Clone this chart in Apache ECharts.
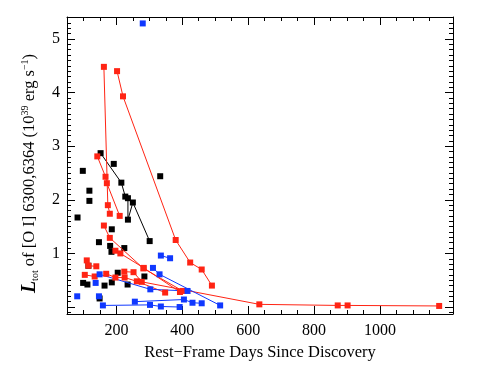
<!DOCTYPE html>
<html>
<head>
<meta charset="utf-8">
<script src="https://cdn.jsdelivr.net/npm/echarts@6/dist/echarts.min.js"></script>
<style>
  html, body { margin: 0; padding: 0; background: #fff; }
  #chart { width: 485px; height: 374px; }
</style>
</head>
<body>
<div id="chart"></div>
<script>
// [day, L(OI)] per object
var redTracks = [
  [[162, 4.48], [174, 1.90], [180, 1.74]],
  [[142, 2.81], [167, 2.43], [171, 2.31], [210, 1.70]],
  [[202, 4.40], [220, 3.93], [380, 1.25], [424, 0.83], [459, 0.70], [490, 0.40]],
  [[162, 1.52], [180, 1.29], [282, 0.72], [401, 0.30]],
  [[197, 1.05], [212, 1.00], [283, 0.73], [393, 0.28]],
  [[110, 0.87], [115, 0.77], [139, 0.76]],
  [[104, 0.60], [134, 0.57]],
  [[169, 0.62], [197, 0.55], [225, 0.55], [262, 0.48], [348, 0.27]],
  [[224, 0.66], [252, 0.65], [277, 0.47], [634, 0.05], [872, 0.03], [902, 0.03], [1180, 0.02]]
];
var blackTracks = [
  [[152, 2.87], [215, 2.32], [227, 2.06], [235, 2.03], [235, 1.63], [250, 1.95], [301, 1.23]]
];
var blackSingles = [
  [192, 2.67], [98, 2.54], [333, 2.44], [118, 2.17], [118, 1.98], [82, 1.67],
  [186, 1.45], [147, 1.21], [181, 1.14], [224, 1.10], [185, 1.03], [115, 0.77],
  [204, 0.64], [285, 0.57], [99, 0.45], [112, 0.42], [164, 0.40], [186, 0.46],
  [234, 0.42], [149, 0.16]
];
var blueTracks = [
  [[335, 0.96], [363, 0.91]],
  [[149, 0.61], [303, 0.33], [416, 0.30]],
  [[311, 0.73], [331, 0.61], [515, 0.03]],
  [[159, 0.03], [302, 0.04], [335, 0.01], [392, 0.00]],
  [[256, 0.10], [405, 0.14], [431, 0.08], [459, 0.07]]
];
var blueSingles = [[280, 5.29], [81, 0.20], [147, 0.20], [137, 0.45]];

var xMajor = [200, 400, 600, 800, 1000];
var yMajor = [0, 1, 2, 3, 4, 5];

var RED = '#ff2414', BLUE = '#1038ff', BLACK = '#000';
var FONT = 'Liberation Serif';

var xMinor = [];
for (var d = 100; d <= 1200; d += 50) if (d % 200 !== 0) xMinor.push(d);
var yMinor = [];
for (var k = -1; k <= 54; k++) if (k % 10 !== 0) yMinor.push(k / 10);

function xAx(pos, ticks, len, showLine, showLabel) {
  return {
    type: 'value', position: pos, min: 50, max: 1222,
    axisLine: { show: showLine, onZero: false, lineStyle: { color: '#000', width: 1 } },
    axisTick: { inside: true, length: len, customValues: ticks, lineStyle: { color: '#000', width: 1 } },
    axisLabel: {
      show: showLabel, customValues: ticks, color: '#000', fontFamily: FONT, fontSize: 16, margin: 9,
      formatter: function (v) { return String(v); }
    },
    splitLine: { show: false }
  };
}
function yAx(pos, ticks, len, showLine, showLabel) {
  return {
    type: 'value', position: pos, min: -0.13, max: 5.41,
    axisLine: { show: showLine, onZero: false, lineStyle: { color: '#000', width: 1 } },
    axisTick: { inside: true, length: len, customValues: ticks, lineStyle: { color: '#000', width: 1 } },
    axisLabel: {
      show: showLabel, customValues: ticks, color: '#000', fontFamily: FONT, fontSize: 16, margin: 7,
      formatter: function (v) { return v === 0 ? '' : String(v); }
    },
    splitLine: { show: false }
  };
}

var xAxes = [
  xAx('bottom', xMajor, 8, true, true),
  xAx('bottom', xMinor, 4, false, false),
  xAx('top', xMajor, 8, true, false),
  xAx('top', xMinor, 4, false, false)
];
xAxes[0].name = 'Rest\u2212Frame Days Since Discovery';
xAxes[0].nameLocation = 'middle';
xAxes[0].nameGap = 28;
xAxes[0].nameTextStyle = { color: '#000', fontFamily: FONT, fontSize: 16.5 };

var yAxes = [
  yAx('left', yMajor, 8, true, true),
  yAx('left', yMinor, 4, false, false),
  yAx('right', yMajor, 8, true, false),
  yAx('right', yMinor, 4, false, false)
];
yAxes[0].name = '{L|L}{sub|tot} of [O I] 6300,6364 (10{sup|39} erg s{sup|\u22121})';
yAxes[0].nameLocation = 'middle';
yAxes[0].nameRotate = 90;
yAxes[0].nameGap = 27;
yAxes[0].nameTextStyle = {
  color: '#000', fontFamily: FONT, fontSize: 16.5, padding: [0, 0, 0, -16],
  rich: {
    L: { fontFamily: FONT, fontSize: 20, fontWeight: 'bold', fontStyle: 'italic', color: '#000' },
    sub: { fontFamily: FONT, fontSize: 10, color: '#000', verticalAlign: 'bottom' },
    sup: { fontFamily: FONT, fontSize: 10, color: '#000', verticalAlign: 'top' }
  }
};

var series = [];
function addTracks(tracks, color) {
  tracks.forEach(function (t) {
    series.push({
      type: 'line', data: t, symbol: 'rect', symbolSize: 6, showAllSymbol: true,
      lineStyle: { color: color, width: 1 }, itemStyle: { color: color, opacity: 1 }, animation: false
    });
  });
}
function addSingles(pts, color) {
  series.push({
    type: 'scatter', data: pts, symbol: 'rect', symbolSize: 6,
    itemStyle: { color: color, opacity: 1 }, animation: false
  });
}
addTracks(blackTracks, BLACK);
addSingles(blackSingles, BLACK);
addTracks(redTracks, RED);
addTracks(blueTracks, BLUE);
addSingles(blueSingles, BLUE);

var chart = echarts.init(document.getElementById('chart'));
chart.setOption({
  backgroundColor: '#fff',
  animation: false,
  grid: { left: 67, right: 32, top: 17, bottom: 60, containLabel: false },
  xAxis: xAxes,
  yAxis: yAxes,
  series: series
});
</script>
</body>
</html>
